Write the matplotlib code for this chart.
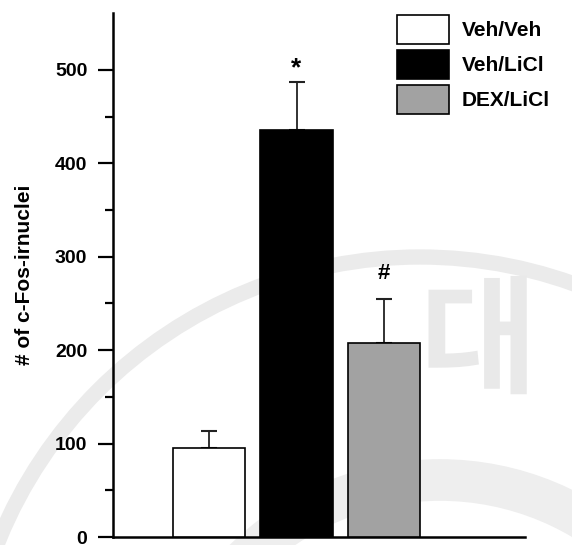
import matplotlib
matplotlib.use("Agg")
import matplotlib.pyplot as plt
from matplotlib.patches import Arc
import numpy as np

plt.rcParams['font.family'] = ['Liberation Sans', 'Noto Sans CJK KR', 'DejaVu Sans']
plt.rcParams['font.weight'] = 'bold'

groups = ['Veh/Veh', 'Veh/LiCl', 'DEX/LiCl']
means = [95, 436, 208]
sems = [19, 51, 47]
marks = ['', '*', '#']
colors = ['white', 'black', '#a2a2a2']

fig = plt.figure(figsize=(5.72, 5.45), dpi=100)

# faint seal behind the chart
bg = fig.add_axes([0, 0, 1, 1], zorder=0)
bg.set_xlim(0, 572)
bg.set_ylim(545, 0)
bg.axis('off')
bg.add_patch(Arc((420, 712), 910, 910, theta1=180, theta2=360,
                 color='#ebebeb', lw=11))
bg.add_patch(Arc((440, 760), 560, 560, theta1=180, theta2=360,
                 color='#eeeeee', lw=30))
bg.text(478, 345, '대', fontsize=92, color='#e9e9e9', ha='center', va='center',
        family='Noto Sans CJK KR', fontweight='bold')

ax = fig.add_axes([113 / 572, 8 / 545, 412 / 572, 524 / 545], zorder=1)
ax.patch.set_alpha(0)

x = np.arange(len(groups))
bars = ax.bar(x, means, width=0.823, color=colors, edgecolor='black',
              linewidth=1.2, zorder=3)
for b, lab in zip(bars, groups):
    b.set_label(lab)

ax.errorbar(x, means, yerr=[np.zeros(len(sems)), sems], fmt='none',
            ecolor='#222222', elinewidth=1.3, capsize=5.5, capthick=1.5, zorder=2)

for xi, m, s, t in zip(x, means, sems, marks):
    if t:
        ax.annotate(t, (xi, m + s), xytext=(0, 1 if t == '*' else 11),
                    textcoords='offset points', ha='center', va='bottom',
                    fontsize=19 if t == '*' else 16, fontweight='bold')

ax.set_xlim(-1.097, 3.611)
ax.set_ylim(0, 561)
ax.set_yticks([0, 100, 200, 300, 400, 500])
ax.set_yticks(np.arange(50, 501, 100), minor=True)
ax.set_xticks([])
ax.tick_params(axis='y', which='major', direction='out', length=10.5, width=1.6,
               labelsize=14, pad=8)
ax.tick_params(axis='y', which='minor', direction='out', length=6, width=1.6)
for side in ['top', 'right']:
    ax.spines[side].set_visible(False)
for side in ['left', 'bottom']:
    ax.spines[side].set_linewidth(1.8)

ax.set_ylabel('# of c-Fos-irnuclei', fontsize=15, fontweight='bold', labelpad=15)

ax.legend(loc='upper left', bbox_to_anchor=(284 / 412, 1.0 - 2 / 524),
          frameon=False, fontsize=15, handlelength=2.5, handleheight=1.75,
          labelspacing=0.3, handletextpad=0.62, borderaxespad=0.0,
          borderpad=0.0)

fig.savefig('out.png', dpi=100)
